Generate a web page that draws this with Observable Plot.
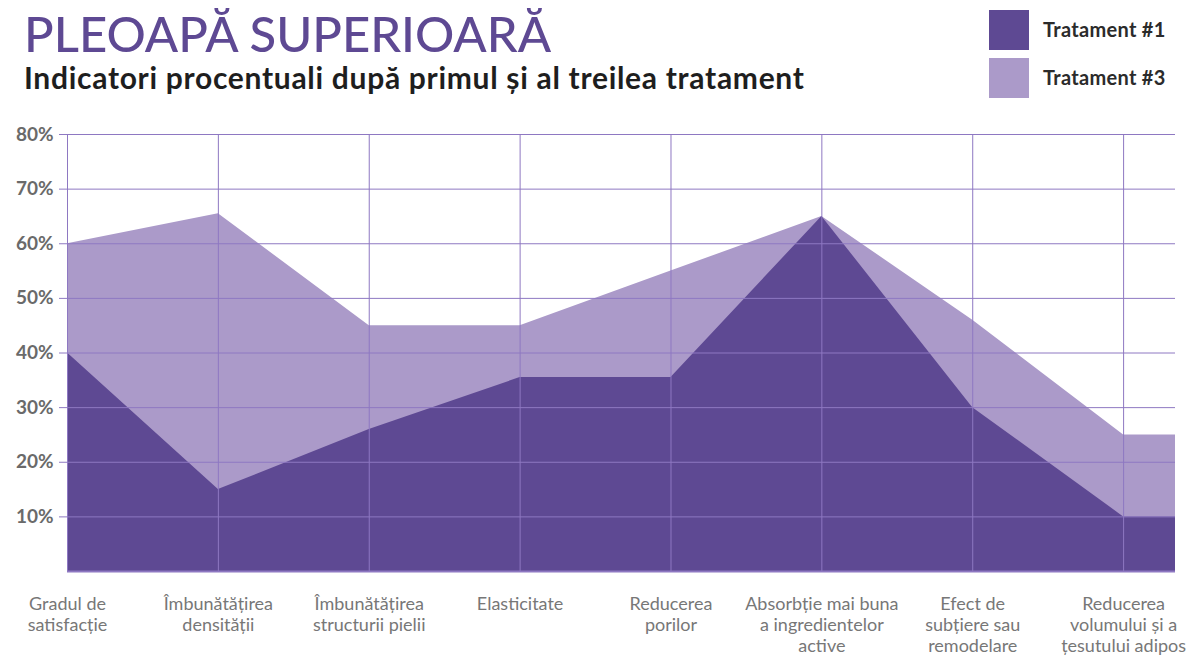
<!DOCTYPE html>
<html>
<head>
<meta charset="utf-8">
<script src="https://cdn.jsdelivr.net/npm/d3@7"></script>
<script src="https://cdn.jsdelivr.net/npm/@observablehq/plot@0.6"></script>
<style>
  html, body { margin: 0; padding: 0; background: #fff; }
  #wrap { width: 1188px; height: 657px; position: relative; overflow: hidden; font-family: Lato, "Open Sans", sans-serif; }
  #header { height: 110px; position: relative; }
  #title { position: absolute; left: 24px; top: 4px; font-size: 49px; font-weight: 500; color: #5e4993; white-space: nowrap; }
  #subtitle { position: absolute; left: 24px; top: 59px; font-size: 30px; font-weight: 700; color: #1e1e1e; white-space: nowrap; letter-spacing: 0.7px; }
  .leg { position: absolute; left: 989px; width: 40px; height: 40px; }
  .legt { position: absolute; left: 1043px; font-size: 20px; font-weight: 700; color: #2b2b2b; white-space: nowrap; letter-spacing: 0.3px; }
</style>
</head>
<body>
<div id="wrap">
  <div id="header">
    <div id="title"></div>
    <div id="subtitle"></div>
    <div class="leg" id="sw1" style="top:10px;"></div>
    <div class="legt" id="lt1" style="top:17px;"></div>
    <div class="leg" id="sw2" style="top:58px;"></div>
    <div class="legt" id="lt2" style="top:65px;"></div>
  </div>
  <div id="chart"></div>
</div>
<script>
const title = "PLEOAPĂ SUPERIOARĂ";
const subtitle = "Indicatori procentuali după primul și al treilea tratament";
const seriesNames = ["Tratament #1", "Tratament #3"];
const seriesColors = ["#5e4993", "#ab9ac9"];
const categories = [
  "Gradul de\nsatisfacție",
  "Îmbunătățirea\ndensității",
  "Îmbunătățirea\nstructurii pielii",
  "Elasticitate",
  "Reducerea\nporilor",
  "Absorbție mai buna\na ingredientelor\nactive",
  "Efect de\nsubțiere sau\nremodelare",
  "Reducerea\nvolumului și a\nțesutului adipos"
];
const tratament1 = [40, 15, 26, 35.5, 35.5, 65, 30, 10];
const tratament3 = [60, 65.5, 45, 45, 55, 65, 46, 25];
const yTicks = [10, 20, 30, 40, 50, 60, 70, 80];

document.getElementById("title").textContent = title;
document.getElementById("subtitle").textContent = subtitle;
document.getElementById("sw1").style.background = seriesColors[0];
document.getElementById("sw2").style.background = seriesColors[1];
document.getElementById("lt1").textContent = seriesNames[0];
document.getElementById("lt2").textContent = seriesNames[1];

const xEnd = 7.344; // right edge of the plotting area (past last category)
const toPoints = vals => {
  const pts = vals.map((v, i) => ({x: i, y: v}));
  pts.push({x: xEnd, y: vals[vals.length - 1]});
  return pts;
};
const p1 = toPoints(tratament1);
const p3 = toPoints(tratament3);
const idx = categories.map((c, i) => i);
const gridColor = "#8e78c2";

const chart = Plot.plot({
  width: 1188,
  height: 547,
  marginTop: 24,
  marginBottom: 86,
  marginLeft: 67,
  marginRight: 13,
  style: {fontFamily: "Lato, 'Open Sans', sans-serif", background: "#fff"},
  x: {domain: [0, xEnd], axis: null},
  y: {domain: [0, 80], axis: null},
  marks: [
    Plot.areaY(p3, {x: "x", y: "y", fill: seriesColors[1]}),
    Plot.areaY(p1, {x: "x", y: "y", fill: seriesColors[0]}),
    Plot.ruleY(yTicks, {stroke: gridColor, strokeWidth: 1}),
    Plot.ruleX(idx, {x: d => d, y1: 0, y2: 80, stroke: gridColor, strokeWidth: 1}),
    Plot.ruleY([0], {stroke: gridColor, strokeWidth: 2}),
    Plot.axisY({ticks: yTicks, tickFormat: d => d + "%", label: null, tickSize: 8, tickPadding: 6, stroke: gridColor, fontSize: 19, fontWeight: 700, fill: "#6a6a6a", anchor: "left"}),
    Plot.text(categories, {x: (d, i) => i, frameAnchor: "bottom", dy: 24, lineAnchor: "top", lineHeight: 1.15, fontSize: 18, fill: "#777", text: d => d})
  ]
});
document.getElementById("chart").appendChild(chart);
</script>
</body>
</html>
